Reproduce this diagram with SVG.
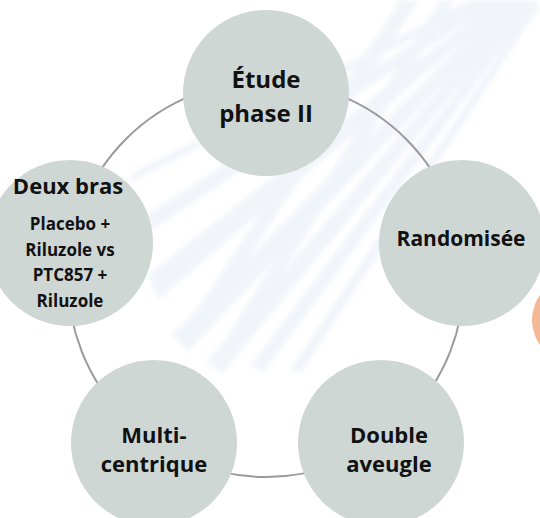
<svg xmlns="http://www.w3.org/2000/svg" width="540" height="518" viewBox="0 0 540 518">
<defs>
<filter id="soft" x="-10%" y="-10%" width="120%" height="120%"><feGaussianBlur stdDeviation="2"/></filter>
</defs>
<style>
.node{fill:#cfd7d5}
.t{font-family:"Open Sans","Noto Sans",sans-serif;font-weight:700;fill:#111;text-anchor:middle}
.ray{fill:#eef3f9}
</style>
<rect width="540" height="518" fill="#ffffff"/>
<g id="background" filter="url(#soft)" opacity="0.8">
<polygon class="ray" points="470,0 490,0 132,182 130,174"/>
<polygon class="ray" points="480,0 500,0 140,238 138,220"/>
<polygon class="ray" points="495,0 512,0 158,300 148,275"/>
<polygon class="ray" points="505,0 522,0 188,352 172,334"/>
<polygon class="ray" points="515,0 530,0 222,374 206,362"/>
<polygon class="ray" points="525,0 538,0 264,372 250,366"/>
<polygon class="ray" points="535,0 540,6 302,372 290,370"/>
<polygon class="ray" points="400,0 420,0 200,330 190,320"/>
<polygon class="ray" points="440,0 455,0 240,340 228,334"/>
</g>
<g id="connectors">
<circle cx="266" cy="279" r="198" fill="none" stroke="#9a9a9a" stroke-width="2"/>
</g>
<g id="decor">
<circle cx="575" cy="320" r="43" fill="#f4b894"/>
</g>
<g id="node-etude">
<circle class="node" cx="266" cy="93" r="83"/>
<text class="t" x="266" y="88" font-size="24">Étude</text>
<text class="t" x="266" y="122" font-size="24">phase II</text>
</g>
<g id="node-randomisee">
<circle class="node" cx="462" cy="243" r="83"/>
<text class="t" x="461" y="246" font-size="21">Randomisée</text>
</g>
<g id="node-double">
<circle class="node" cx="381" cy="443" r="83"/>
<text class="t" x="389" y="443" font-size="22">Double</text>
<text class="t" x="389" y="472" font-size="22">aveugle</text>
</g>
<g id="node-multi">
<circle class="node" cx="154" cy="443" r="83"/>
<text class="t" x="154" y="443" font-size="22">Multi-</text>
<text class="t" x="154" y="472" font-size="22">centrique</text>
</g>
<g id="node-deux-bras">
<circle class="node" cx="70" cy="243" r="83"/>
<text class="t" x="68" y="194" font-size="22">Deux bras</text>
<text class="t" x="70" y="230" font-size="17">Placebo +</text>
<text class="t" x="70" y="255.5" font-size="17">Riluzole vs</text>
<text class="t" x="70" y="281" font-size="17">PTC857 +</text>
<text class="t" x="70" y="306.5" font-size="17">Riluzole</text>
</g>
</svg>
